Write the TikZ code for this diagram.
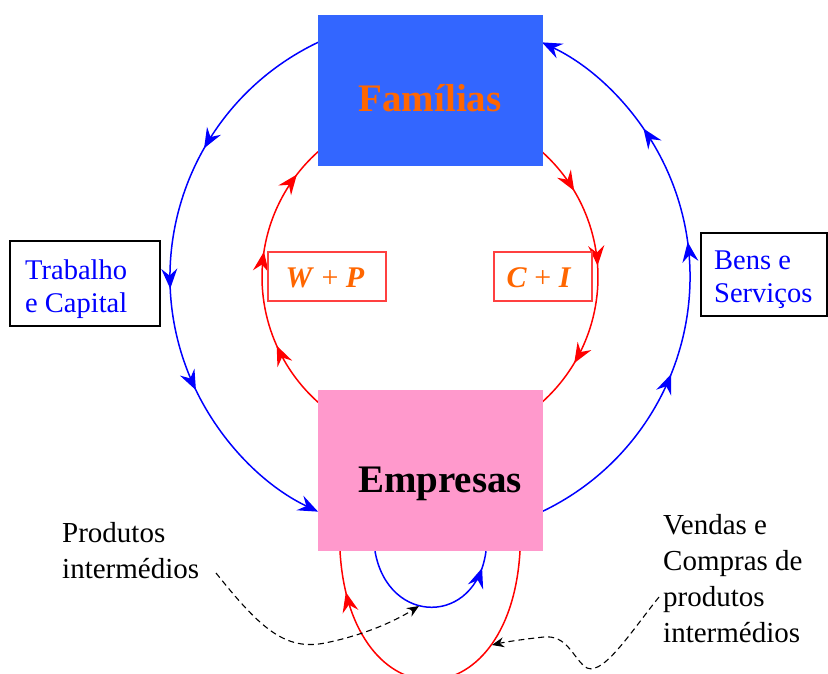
\documentclass[tikz,border=0pt]{standalone}
\usepackage{fontspec}
\setmainfont{Liberation Serif}
\usetikzlibrary{arrows.meta,decorations.markings}
\definecolor{famblue}{RGB}{51,102,255}
\definecolor{emppink}{RGB}{255,153,204}
\definecolor{labelorange}{RGB}{255,102,0}
\definecolor{boxred}{RGB}{255,64,64}
\tikzset{
  arrowat/.style={postaction={decorate,decoration={markings,mark=at position #1 with {\arrow{Stealth[length=20pt,width=16pt,inset=7pt]}}}}},
  bluearc/.style={draw=blue,line width=1.5pt},
  redarc/.style={draw=red,line width=1.5pt},
  bigbox/.style={draw=none,minimum width=225pt,inner sep=0pt},
  bigtext/.style={font=\fontsize{39}{44}\selectfont\bfseries,inner sep=0pt,anchor=base},
  labelbox/.style={draw=black,line width=1.2pt,inner sep=0pt},
  labeltext/.style={font=\fontsize{28.5}{33.5}\selectfont,align=left,inner sep=0pt,anchor=base west},
  notetext/.style={font=\fontsize{29}{35.7}\selectfont,align=left,inner sep=0pt,anchor=base west},
  sumbox/.style={draw=boxred,line width=1.2pt,minimum height=49pt,inner sep=0pt},
  sumtext/.style={font=\fontsize{30}{34}\selectfont,text=labelorange,inner sep=0pt,anchor=base},
  notearrow/.style={draw=black,dash pattern=on 6pt off 4pt,line width=1.1pt,-{Stealth[length=12pt,width=10pt,inset=4pt]}}
}
\begin{document}
\begin{tikzpicture}[x=1pt,y=1pt,>={Stealth[length=20pt,width=16pt,inset=7pt]}]
\useasboundingbox (0,0) rectangle (828,673);
\clip (0,0) rectangle (828,673);
\coordinate (O) at (430,396);
% outer blue circle
\draw[bluearc,->,arrowat=0.27,arrowat=0.52,arrowat=0.70]
  ([shift={(115.5:260)}]O) arc[start angle=115.5,end angle=244.5,radius=260];
\draw[bluearc,->,arrowat=0.33,arrowat=0.56,arrowat=0.77]
  ([shift={(-64.5:260)}]O) arc[start angle=-64.5,end angle=64.5,radius=260];
% inner red circle
\draw[redarc,arrowat=0.25,arrowat=0.59,arrowat=0.89]
  ([shift={(228.2:168)}]O) arc[start angle=228.2,end angle=131.8,radius=168];
\draw[redarc,arrowat=0.18,arrowat=0.46,arrowat=0.82]
  ([shift={(48.2:168)}]O) arc[start angle=48.2,end angle=-48.2,radius=168];
% main boxes
\node[bigbox,fill=famblue,minimum height=151pt] (fam) at (430.5,582.5) {};
\node[bigbox,fill=emppink,minimum height=161pt] (emp) at (430.5,202.5) {};
\node[bigtext,text=labelorange] (famtext) at (430,561) {Famílias};
\node[bigtext,text=black] (emptext) at (440,181) {Empresas};
% side labels
\node[labelbox,minimum width=150pt,minimum height=85pt] (tcbox) at (85,389.5) {};
\node[labeltext,text=blue] (tctext) at (25,360) {Trabalho\\e Capital};
\node[labelbox,minimum width=126pt,minimum height=83pt] (bsbox) at (764,398.5) {};
\node[labeltext,text=blue] (bstext) at (714,370) {Bens e\\Serviços};
% inner sums
\node[sumbox,minimum width=118pt] (wpbox) at (327,396.5) {};
\node[sumtext] (wptext) at (325,385) {\textbf{\textit{W}} + \textbf{\textit{P}}};
\node[sumbox,minimum width=98pt] (cibox) at (543,396.5) {};
\node[sumtext] (citext) at (539,385) {\textbf{\textit{C}} + \textbf{\textit{I}}};
% loops below Empresas
\draw[bluearc,arrowat=0.9] ([xshift=-55.5pt]emp.south) .. controls (388,47) and (476,47) .. ([xshift=55.5pt]emp.south);
\draw[redarc,arrowat=0.88] ([xshift=89.5pt]emp.south) .. controls (510,-50) and (350,-50) .. ([xshift=-90.5pt]emp.south);
% notes
\node[notetext] (prodtext) at (62,95) {Produtos\\intermédios};
\node[notetext] (vendtext) at (663,31) {Vendas e\\Compras de\\produtos\\intermédios};
\coordinate (pstart) at (216,100);
\coordinate (ptip) at (419,67);
\coordinate (vstart) at (659,76);
\coordinate (vtip) at (492,28);
\draw[notearrow] (pstart) .. controls (260,45) and (285,22) .. (325,30) .. controls (360,37) and (392,50) .. (ptip);
\draw[notearrow] (vstart) .. controls (630,40) and (600,-8) .. (584,7) .. controls (572,18) and (566,38) .. (544,36) .. controls (525,34) and (505,31) .. (vtip);
\end{tikzpicture}
\end{document}
